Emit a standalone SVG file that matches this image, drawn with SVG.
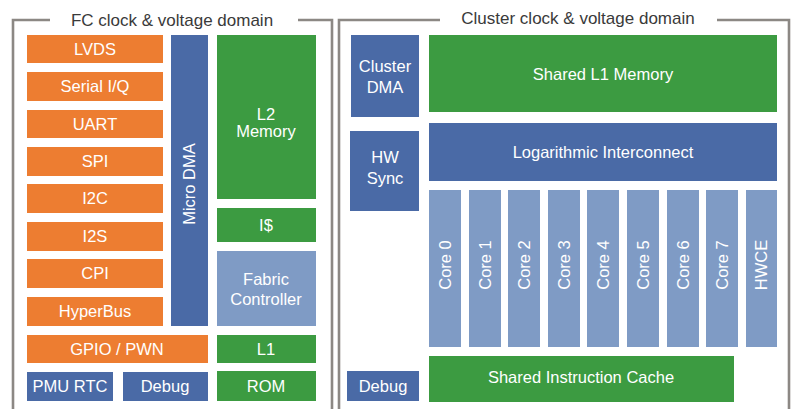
<svg xmlns="http://www.w3.org/2000/svg" width="795" height="409" viewBox="0 0 795 409">
<style>
.fr{fill:none;stroke:#8c8884;stroke-width:2.6}
.t{font-family:"Liberation Sans",Arial,sans-serif;font-size:16.5px;fill:#fff;text-anchor:middle}
.tt{font-family:"Liberation Sans",Arial,sans-serif;font-size:17px;fill:#3a3a3a;text-anchor:middle}
.o{fill:#ED7D31}.g{fill:#3C9B41}.b{fill:#4A6AA6}.lb{fill:#7F9BC5}
</style>
<rect width="795" height="409" fill="#fff"/>
<g id="fc-domain">
<path class="fr" d="M50,20 H13 V409 M298,20 H332 V409"/>
<text class="tt" x="172" y="26">FC clock &amp; voltage domain</text>
</g>
<g id="cluster-domain">
<path class="fr" d="M440,20 H339 V409 M717,20 H789 V409"/>
<text class="tt" x="578" y="24">Cluster clock &amp; voltage domain</text>
</g>
<g id="lvds"><rect class="o" x="27" y="35" width="136" height="28"/><text class="t" x="95" y="55">LVDS</text></g>
<g id="serial-iq"><rect class="o" x="27" y="72" width="136" height="29"/><text class="t" x="95" y="92">Serial I/Q</text></g>
<g id="uart"><rect class="o" x="27" y="110" width="136" height="28"/><text class="t" x="95" y="130">UART</text></g>
<g id="spi"><rect class="o" x="27" y="147" width="136" height="29"/><text class="t" x="95" y="167">SPI</text></g>
<g id="i2c"><rect class="o" x="27" y="184" width="136" height="29"/><text class="t" x="95" y="204">I2C</text></g>
<g id="i2s"><rect class="o" x="27" y="222" width="136" height="29"/><text class="t" x="95" y="242">I2S</text></g>
<g id="cpi"><rect class="o" x="27" y="259" width="136" height="29"/><text class="t" x="95" y="279">CPI</text></g>
<g id="hyperbus"><rect class="o" x="27" y="297" width="136" height="29"/><text class="t" x="95" y="317">HyperBus</text></g>
<g id="gpio"><rect class="o" x="27" y="335" width="181" height="28"/><text class="t" x="117" y="355">GPIO / PWN</text></g>
<g id="pmu-rtc"><rect class="b" x="27" y="372" width="86" height="29"/><text class="t" x="70" y="392">PMU RTC</text></g>
<g id="fc-debug"><rect class="b" x="123" y="372" width="85" height="29"/><text class="t" x="165" y="392">Debug</text></g>
<g id="micro-dma"><rect class="b" x="171" y="35" width="37" height="291"/><text class="t" transform="translate(195,184) rotate(-90)">Micro DMA</text></g>
<g id="l2"><rect class="g" x="217" y="35" width="99" height="164"/><text class="t" x="266" y="120">L2</text><text class="t" x="266" y="137">Memory</text></g>
<g id="icache"><rect class="g" x="217" y="208" width="99" height="34"/><text class="t" x="266" y="231">I$</text></g>
<g id="fabric"><rect class="lb" x="217" y="251" width="99" height="75"/><text class="t" x="266" y="285">Fabric</text><text class="t" x="266" y="305">Controller</text></g>
<g id="l1"><rect class="g" x="217" y="335" width="99" height="28"/><text class="t" x="266" y="355">L1</text></g>
<g id="rom"><rect class="g" x="217" y="371" width="99" height="30"/><text class="t" x="266" y="392">ROM</text></g>
<g id="cluster-dma"><rect class="b" x="351" y="35" width="68" height="82"/><text class="t" x="385" y="72">Cluster</text><text class="t" x="385" y="93">DMA</text></g>
<g id="hw-sync"><rect class="b" x="350" y="131" width="69" height="80"/><text class="t" x="385" y="163">HW</text><text class="t" x="385" y="184">Sync</text></g>
<g id="cl-debug"><rect class="b" x="347" y="371" width="72" height="30"/><text class="t" x="383" y="392">Debug</text></g>
<g id="shared-l1"><rect class="g" x="429" y="35" width="348" height="77"/><text class="t" x="603" y="80">Shared L1 Memory</text></g>
<g id="log-ic"><rect class="b" x="429" y="123" width="348" height="58"/><text class="t" x="603" y="158">Logarithmic Interconnect</text></g>
<g id="core0"><rect class="lb" x="429" y="190" width="32" height="157"/><text class="t" transform="translate(451,265) rotate(-90)">Core 0</text></g>
<g id="core1"><rect class="lb" x="469" y="190" width="32" height="157"/><text class="t" transform="translate(491,265) rotate(-90)">Core 1</text></g>
<g id="core2"><rect class="lb" x="508" y="190" width="32" height="157"/><text class="t" transform="translate(530,265) rotate(-90)">Core 2</text></g>
<g id="core3"><rect class="lb" x="548" y="190" width="32" height="157"/><text class="t" transform="translate(570,265) rotate(-90)">Core 3</text></g>
<g id="core4"><rect class="lb" x="587" y="190" width="32" height="157"/><text class="t" transform="translate(609,265) rotate(-90)">Core 4</text></g>
<g id="core5"><rect class="lb" x="627" y="190" width="32" height="157"/><text class="t" transform="translate(649,265) rotate(-90)">Core 5</text></g>
<g id="core6"><rect class="lb" x="667" y="190" width="32" height="157"/><text class="t" transform="translate(689,265) rotate(-90)">Core 6</text></g>
<g id="core7"><rect class="lb" x="706" y="190" width="32" height="157"/><text class="t" transform="translate(728,265) rotate(-90)">Core 7</text></g>
<g id="hwce"><rect class="lb" x="746" y="190" width="31" height="157"/><text class="t" transform="translate(767,265) rotate(-90)">HWCE</text></g>
<g id="shared-icache"><rect class="g" x="429" y="356" width="305" height="46"/><text class="t" x="581" y="383">Shared Instruction Cache</text></g>
<g id="connectors"></g>
</svg>
